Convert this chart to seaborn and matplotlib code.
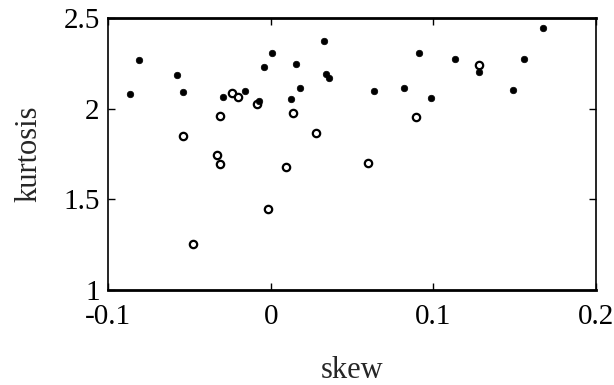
import matplotlib
matplotlib.use("Agg")
import matplotlib.pyplot as plt
import seaborn as sns
import pandas as pd

filled_skew = [-0.0865, -0.0807, -0.0574, -0.0537, -0.0295, -0.0158, -0.0070, -0.0041,
               0.0006, 0.0156, 0.0180, 0.0123, 0.0328, 0.0340, 0.0360, 0.0635, 0.0820,
               0.0914, 0.0988, 0.1135, 0.1283, 0.1492, 0.1560, 0.1672]
filled_kurt = [2.079, 2.268, 2.184, 2.094, 2.066, 2.099, 2.040, 2.232,
               2.305, 2.246, 2.112, 2.052, 2.375, 2.190, 2.170, 2.097, 2.112,
               2.305, 2.059, 2.276, 2.204, 2.103, 2.276, 2.445]

open_skew = [-0.0537, -0.0311, -0.0332, -0.0311, -0.0240, -0.0199, -0.0086, 0.0135,
             0.0094, 0.0279, 0.0893, 0.0596, 0.1281, -0.0015, -0.0476]
open_kurt = [1.849, 1.960, 1.744, 1.693, 2.088, 2.063, 2.026, 1.974,
             1.681, 1.864, 1.956, 1.702, 2.241, 1.445, 1.252]

x_ticks = [-0.1, 0, 0.1, 0.2]
x_labels = ["-0.1", "0", "0.1", "0.2"]
y_ticks = [1, 1.5, 2, 2.5]
y_labels = ["1", "1.5", "2", "2.5"]

sns.set_style("white")
plt.rcParams["font.family"] = ["Liberation Serif", "DejaVu Serif"]

fig = plt.figure(figsize=(6.14, 3.85), dpi=100)
ax = fig.add_axes([108 / 614, 1 - 290 / 385, (596 - 108) / 614, (290 - 18) / 385])

df_f = pd.DataFrame({"skew": filled_skew, "kurtosis": filled_kurt})
df_o = pd.DataFrame({"skew": open_skew, "kurtosis": open_kurt})

sns.scatterplot(data=df_o, x="skew", y="kurtosis", ax=ax, marker="o", s=28,
                facecolor="white", edgecolor="black", linewidth=1.6, zorder=3)
sns.scatterplot(data=df_f, x="skew", y="kurtosis", ax=ax, marker="o", s=22,
                color="black", edgecolor="black", linewidth=0.5, zorder=4)

ax.set_xlim(-0.1, 0.2)
ax.set_ylim(1, 2.5)
ax.set_xticks(x_ticks)
ax.set_xticklabels(x_labels)
ax.set_yticks(y_ticks)
ax.set_yticklabels(y_labels)
ax.tick_params(direction="in", length=5, width=1, labelsize=21, colors="black",
               top=True, right=True, bottom=True, left=True, pad=6)
ax.tick_params(axis="x", pad=10)
for side in ["top", "bottom"]:
    ax.spines[side].set_linewidth(2)
    ax.spines[side].set_color("black")
for side in ["left", "right"]:
    ax.spines[side].set_linewidth(1.2)
    ax.spines[side].set_color("black")
    ax.spines[side].set_linestyle((0, (6, 1)))

ax.set_xlabel("skew", fontsize=22, labelpad=19)
ax.set_ylabel("kurtosis", fontsize=22, labelpad=14)

fig.savefig("out.png", dpi=100)
